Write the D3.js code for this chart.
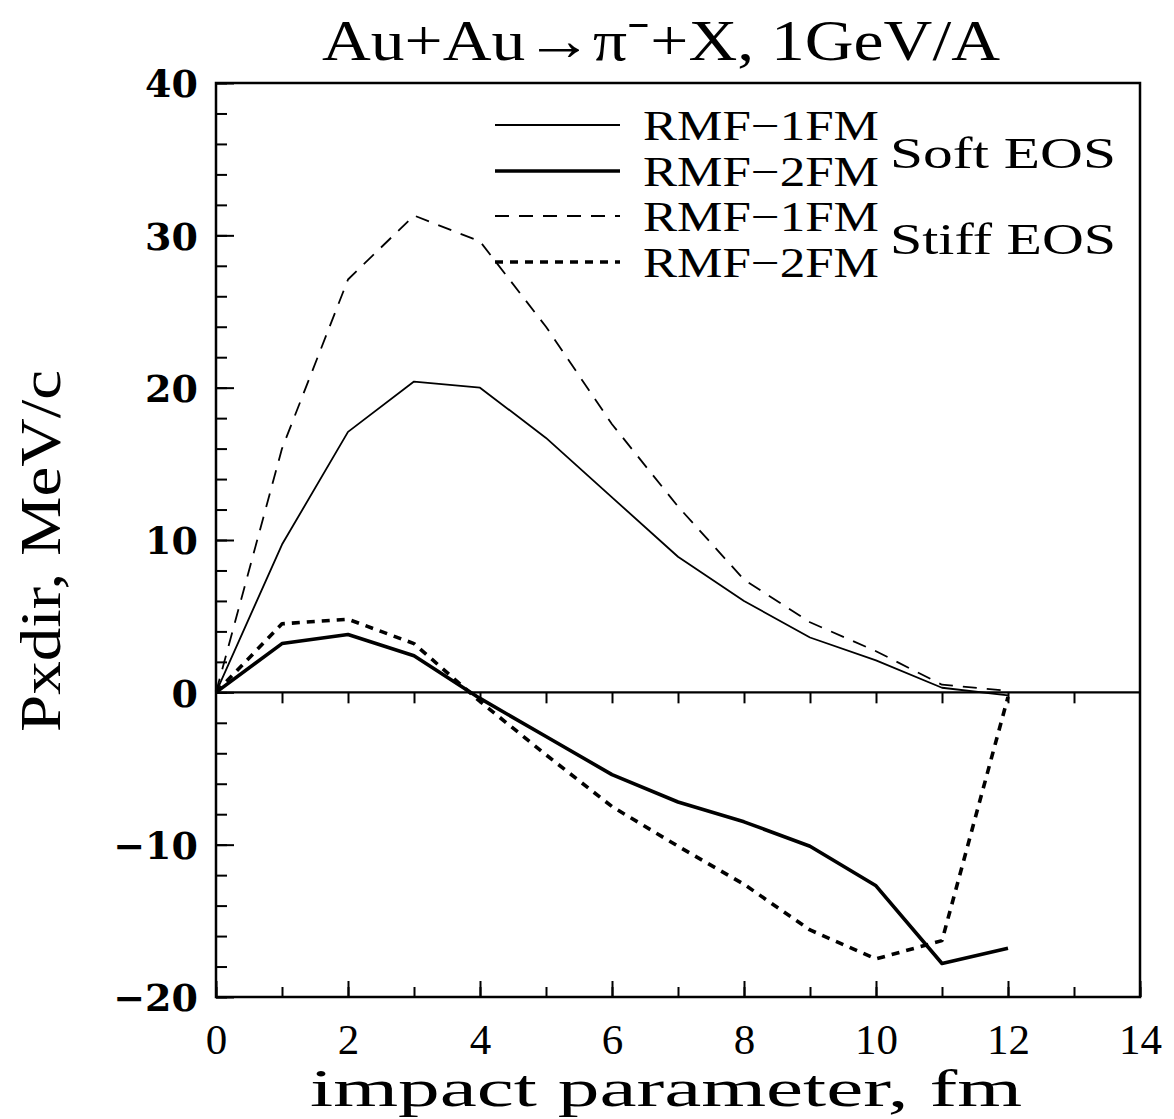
<!DOCTYPE html>
<html>
<head>
<meta charset="utf-8">
<script src="https://cdn.jsdelivr.net/npm/d3@7"></script>
<style>
    body { margin: 0; background: #fff; }
    svg text { fill: #000; }
</style>
</head>
<body>
<script>
// impact parameter, fm
const impact = [0, 1, 2, 3, 4, 5, 6, 7, 8, 9, 10, 11, 12];

// Pxdir, MeV/c
const softRmf1 = [0, 9.7, 17.1, 20.4, 20.0, 16.7, 12.8, 8.9, 6.0, 3.6, 2.1, 0.3, -0.2];
const softRmf2 = [0, 3.2, 3.8, 2.4, -0.4, -2.9, -5.4, -7.2, -8.5, -10.1, -12.7, -17.8, -16.8];
const stiffRmf1 = [0, 16.0, 27.1, 31.3, 29.6, 24.0, 17.6, 12.2, 7.4, 4.6, 2.7, 0.5, 0.1];
const stiffRmf2 = [0, 4.5, 4.8, 3.2, -0.6, -4.1, -7.5, -10.1, -12.6, -15.6, -17.5, -16.3, -0.3];

const xTicks = [0, 2, 4, 6, 8, 10, 12, 14];
const yTicks = [-20, -10, 0, 10, 20, 30, 40];

const seriesNames = ['RMF\u22121FM', 'RMF\u22122FM', 'RMF\u22121FM', 'RMF\u22122FM'];
const groupNames = ['Soft  EOS', 'Stiff  EOS'];

const width = 1174, height = 1119;
const margins = {top: 83, left: 216, right: 34, bottom: 122};
const innerW = width - margins.left - margins.right;
const innerH = height - margins.top - margins.bottom;

const x = d3.scaleLinear().domain([0, 14]).range([0, innerW]);
const y = d3.scaleLinear().domain([-20, 40]).range([innerH, 0]);

const styles = [
    {width: 1.8, dash: null},
    {width: 3.6, dash: null},
    {width: 1.8, dash: '14,10'},
    {width: 3.6, dash: '8,7'}
];
const data = [softRmf1, softRmf2, stiffRmf1, stiffRmf2];

const svg = d3.select('body').append('svg')
    .attr('width', width)
    .attr('height', height);

const serif = 'Liberation Serif, Times New Roman, serif';

// title
svg.append('text')
    .attr('x', 322)
    .attr('y', 60)
    .attr('font-family', serif)
    .attr('font-size', 58)
    .attr('textLength', 678)
    .attr('lengthAdjust', 'spacingAndGlyphs')
    .text('Au+Au\u2192\u03c0\u207b+X,  1GeV/A');

const g = svg.append('g')
    .attr('transform', 'translate(' + margins.left + ',' + margins.top + ')');

// y axis, ticks pointing inward
const yMinor = d3.axisLeft(y).tickValues(d3.range(-20, 41, 2)).tickSize(-11).tickFormat('');
const yMajor = d3.axisLeft(y).tickValues(yTicks).tickSize(-18).tickPadding(18)
    .tickFormat(d => d < 0 ? '\u2212' + Math.abs(d) : d);

g.append('g').attr('class', 'y minor').call(yMinor);
g.append('g').attr('class', 'y major').call(yMajor);

// x axis on the bottom edge
const xMinor = d3.axisBottom(x).tickValues(d3.range(0, 15, 1)).tickSize(-10).tickFormat('');
const xMajor = d3.axisBottom(x).tickValues(xTicks).tickSize(-16).tickPadding(26);

g.append('g').attr('class', 'x minor')
    .attr('transform', 'translate(0,' + innerH + ')').call(xMinor);
g.append('g').attr('class', 'x major')
    .attr('transform', 'translate(0,' + innerH + ')').call(xMajor);

// zero line with its own small ticks
const zeroAxis = d3.axisBottom(x).tickValues(d3.range(1, 14, 1)).tickSize(11).tickFormat('');
g.append('g').attr('class', 'zero')
    .attr('transform', 'translate(0,' + y(0) + ')').call(zeroAxis);

g.selectAll('.domain').remove();
g.selectAll('.tick line').attr('stroke', '#000').attr('stroke-width', 2);
g.select('.zero').append('line')
    .attr('x1', 0).attr('x2', innerW)
    .attr('stroke', '#000').attr('stroke-width', 2.2);

g.selectAll('.y.major text')
    .attr('font-family', 'DejaVu Serif, serif')
    .attr('font-weight', 'bold')
    .attr('font-size', 38)
    .attr('dy', '0.36em');
g.selectAll('.x.major text')
    .attr('font-family', serif)
    .attr('font-size', 43);

// frame
g.append('rect')
    .attr('width', innerW)
    .attr('height', innerH)
    .attr('fill', 'none')
    .attr('stroke', '#000')
    .attr('stroke-width', 2.5);

// curves
const line = d3.line()
    .x((d, i) => x(impact[i]))
    .y(d => y(d));

data.forEach((vals, i) => {
    g.append('path')
        .datum(vals)
        .attr('d', line)
        .attr('fill', 'none')
        .attr('stroke', '#000')
        .attr('stroke-width', styles[i].width)
        .attr('stroke-linejoin', 'round')
        .attr('stroke-dasharray', styles[i].dash);
});

// legend
const legendRows = [125, 171, 216, 262];
const legend = svg.append('g').attr('class', 'legend');
seriesNames.forEach((name, i) => {
    legend.append('line')
        .attr('x1', 495).attr('x2', 620)
        .attr('y1', legendRows[i]).attr('y2', legendRows[i])
        .attr('stroke', '#000')
        .attr('stroke-width', styles[i].width)
        .attr('stroke-dasharray', styles[i].dash);
    legend.append('text')
        .attr('x', 643)
        .attr('y', legendRows[i] + 15)
        .attr('font-family', serif)
        .attr('font-size', 42)
        .attr('textLength', 236)
        .attr('lengthAdjust', 'spacingAndGlyphs')
        .text(name);
});
groupNames.forEach((name, i) => {
    legend.append('text')
        .attr('x', 890)
        .attr('y', [168, 254][i])
        .attr('font-family', serif)
        .attr('font-size', 44)
        .attr('textLength', 226)
        .attr('lengthAdjust', 'spacingAndGlyphs')
        .text(name);
});

// axis titles
svg.append('text')
    .attr('x', 310)
    .attr('y', 1106)
    .attr('font-family', serif)
    .attr('font-size', 52)
    .attr('textLength', 712)
    .attr('lengthAdjust', 'spacingAndGlyphs')
    .text('impact  parameter,  fm');

svg.append('text')
    .attr('transform', 'translate(60,732) rotate(-90)')
    .attr('font-family', serif)
    .attr('font-size', 58)
    .attr('textLength', 362)
    .attr('lengthAdjust', 'spacingAndGlyphs')
    .text('Pxdir,  MeV/c');
</script>
</body>
</html>
